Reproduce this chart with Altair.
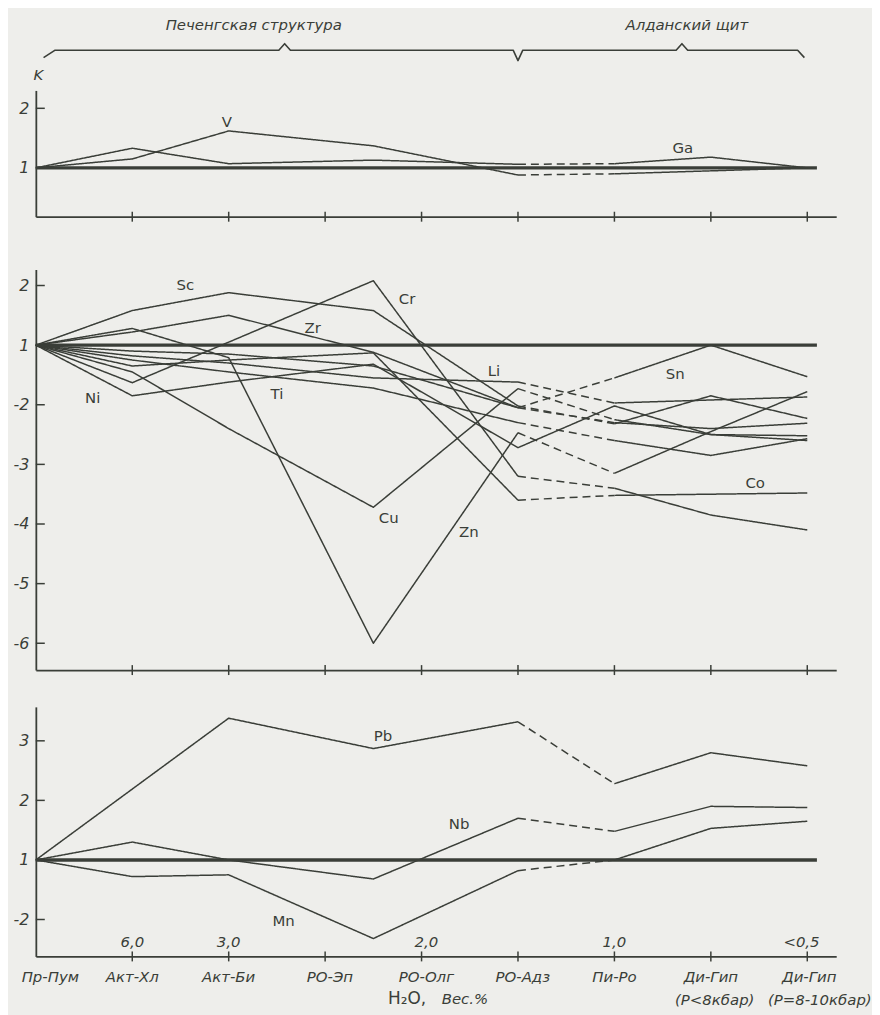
import altair as alt
import pandas as pd

INK = "#3a3e38"
BG = "#eeeeeb"
FONT = "DejaVu Sans"

X_MAX = 8.3
W = 805

# ---------------- axis / category data ----------------
categories = ["Пр-Пум", "Акт-Хл", "Акт-Би", "РО-Эп", "РО-Олг", "РО-Адз", "Пи-Ро", "Ди-Гип", "Ди-Гип"]
cat_x = [0.15, 1.0, 2.0, 3.05, 4.05, 5.05, 6.0, 7.0, 8.02]
cat_sub = ["(P<8кбар)", "(P=8-10кбар)"]
cat_sub_x = [7.04, 8.13]
h2o_labels = ["6,0", "3,0", "2,0", "1,0", "<0,5"]
h2o_x = [1.0, 2.0, 4.05, 6.0, 7.94]
x_ticks = [1, 2, 3, 4, 5, 6, 7, 8]
baseline_end = 8.1
xtitle_parts = ["H₂O,", "Вес.%"]
xtitle_x = [3.85, 4.45]
xtitle_style = ["normal", "italic"]

groups = ["Печенгская структура", "Алданский щит"]
group_start = [0, 5]
group_end = [5, 8]
group_label_x = [2.26, 6.75]
group_peak_x = [2.58, 6.70]

# x positions of the data points
idx8 = [0, 1, 2, 3.5, 5, 6, 7, 8]
idx_pb = [0, 2, 3.5, 5, 6, 7, 8]

# ---------------- panel 1 (K values) ----------------
p1_series = {
    "V":  (idx8, [1, 1.15, 1.62, 1.37, -1.12, -1.10, -1.05, 1]),
    "Ga": (idx8, [1, 1.33, 1.07, 1.13, 1.06, 1.07, 1.18, 1]),
}
p1_dashed = ["V", "Ga"]
p1_lab = ["V", "Ga"]
p1_lab_x = [1.98, 6.71]
p1_lab_k = [1.77, 1.33]
p1_ticks = [2, 1]

# ---------------- panel 2 (K values) ----------------
p2_series = {
    "Sc": (idx8, [1, 1.58, 1.88, 1.58, -2.02, -2.32, -1.85, -2.23]),
    "Cr": (idx8, [1, -1.63, 1.05, 2.08, -3.2, -3.4, -3.85, -4.1]),
    "Zr": (idx8, [1, 1.22, 1.5, -1.12, -2.05, -2.3, -2.4, -2.31]),
    "Zn": (idx8, [1, 1.28, -1.21, -6.0, -2.47, -3.15, -2.45, -1.78]),
    "Cu": (idx8, [1, -1.45, -2.4, -3.72, -1.73, -2.25, -2.5, -2.52]),
    "Ni": (idx8, [1, -1.85, -1.62, -1.32, -2.72, -2.02, -2.5, -2.6]),
    "Ti": (idx8, [1, -1.25, -1.45, -1.72, -2.3, -2.6, -2.85, -2.57]),
    "Li": (idx8, [1, -1.18, -1.3, -1.55, -1.62, -1.97, -1.92, -1.87]),
    "Sn": (idx8, [1, -1.1, -1.15, -1.35, -2.05, -1.55, 1, -1.53]),
    "Co": (idx8, [1, -1.35, -1.25, -1.13, -3.6, -3.52, -3.5, -3.48]),
}
p2_dashed = ["Sc", "Cr", "Zr", "Zn", "Cu", "Ti", "Li", "Sn", "Co"]
p2_lab = ["Sc", "Cr", "Zr", "Ni", "Ti", "Li", "Sn", "Cu", "Zn", "Co"]
p2_lab_x = [1.55, 3.85, 2.87, 0.59, 2.50, 4.75, 6.63, 3.66, 4.49, 7.46]
p2_lab_k = [2.0, 1.77, 1.28, -1.88, -1.82, -1.43, -1.48, -3.9, -4.13, -3.32]
p2_ticks = [2, 1, -2, -3, -4, -5, -6]

# ---------------- panel 3 (K values) ----------------
p3_series = {
    "Pb": (idx_pb, [1, 3.38, 2.87, 3.32, 2.28, 2.8, 2.58]),
    "Nb": (idx8, [1, 1.3, 1, -1.32, 1.7, 1.48, 1.9, 1.88]),
    "Mn": (idx8, [1, -1.28, -1.25, -2.32, -1.18, 1, 1.53, 1.65]),
}
p3_dashed = ["Pb", "Nb", "Mn"]
p3_lab = ["Pb", "Nb", "Mn"]
p3_lab_x = [3.6, 4.39, 2.57]
p3_lab_k = [3.08, 1.6, -2.02]
p3_ticks = [3, 2, 1, -2]


def k2p(k):
    """position on the drawn K scale: 2 -> 1, 1 -> 0, -2 -> -1 ..."""
    return k - 1 if k >= 1 else k + 1


LABEL_EXPR = "datum.value >= 0 ? '' + (datum.value + 1) : '-' + (1 - datum.value)"


def line_rows(series, dashed_names, dashed_from=5):
    rows = []
    for name, (xs, ks) in series.items():
        run = 0
        prev = None
        for i in range(len(xs) - 1):
            style = "dashed" if (name in dashed_names and xs[i] == dashed_from) else "solid"
            if style != prev:
                run += 1
                rows.append(dict(run=f"{name}-{run}", style=style, x=xs[i], p=k2p(ks[i]), o=i))
                prev = style
            rows.append(dict(run=f"{name}-{run}", style=style, x=xs[i + 1], p=k2p(ks[i + 1]), o=i + 1))
    return pd.DataFrame(rows)


def make_panel(series, dashed, lab, lab_x, lab_k, ticks_k, dom, height, k_title=False, bottom=False):
    xs = alt.Scale(domain=[0, X_MAX], nice=False, zero=False)
    ys = alt.Scale(domain=dom, nice=False, zero=False)
    tick_p = [k2p(k) for k in ticks_k]

    xaxis = alt.Axis(ticks=False, labels=False, grid=False, domainColor=INK, domainWidth=1.8, title=None)
    yargs = dict(values=tick_p, labelExpr=LABEL_EXPR, ticks=False, grid=False, domainColor=INK,
                 domainWidth=1.8, labelColor=INK, labelFont=FONT, labelFontSize=16,
                 labelFontStyle="italic", labelPadding=7)
    if k_title:
        yargs.update(title="K", titleAngle=0, titleX=2, titleY=-16, titleFont=FONT, titleFontSize=15,
                     titleFontStyle="italic", titleFontWeight="normal", titleColor=INK,
                     titleAlign="center", titleBaseline="middle")
    else:
        yargs.update(title=None)
    yaxis = alt.Axis(**yargs)

    X = lambda f: alt.X(f, scale=xs, axis=xaxis)
    Y = lambda f: alt.Y(f, scale=ys, axis=yaxis)

    base = alt.Chart(pd.DataFrame({"x": [0], "x2": [baseline_end], "p": [0]})).mark_rule(
        color=INK, strokeWidth=3.4).encode(x=X("x:Q"), x2="x2:Q", y=Y("p:Q"))

    lines = alt.Chart(line_rows(series, dashed)).mark_line(
        color=INK, strokeWidth=1.5, strokeJoin="round").encode(
        x=X("x:Q"), y=Y("p:Q"),
        detail="run:N",
        order="o:Q",
        strokeDash=alt.StrokeDash("style:N", scale=alt.Scale(domain=["solid", "dashed"],
                                                             range=[[1, 0], [8, 5]]), legend=None),
    )

    xt = alt.Chart(pd.DataFrame({"x": x_ticks})).mark_rule(color=INK, strokeWidth=1.5).encode(
        x=X("x:Q"), y=alt.value(height - 5), y2=alt.value(height + 5))
    yt = alt.Chart(pd.DataFrame({"p": tick_p})).mark_rule(color=INK, strokeWidth=1.5).encode(
        y=Y("p:Q"), x=alt.value(0), x2=alt.value(9))

    labels = alt.Chart(pd.DataFrame({"t": lab, "x": lab_x, "p": [k2p(k) for k in lab_k]})).mark_text(
        font=FONT, fontSize=15, color=INK).encode(x=X("x:Q"), y=Y("p:Q"), text="t:N")

    layers = [base, lines, xt, yt, labels]

    if bottom:
        h2o = alt.Chart(pd.DataFrame({"t": h2o_labels, "x": h2o_x})).mark_text(
            font=FONT, fontSize=15, fontStyle="italic", color=INK).encode(
            x=X("x:Q"), y=alt.value(height - 14), text="t:N")
        cats = alt.Chart(pd.DataFrame({"t": categories, "x": cat_x})).mark_text(
            font=FONT, fontSize=15, fontStyle="italic", color=INK).encode(
            x=X("x:Q"), y=alt.value(height + 21), text="t:N")
        subs = alt.Chart(pd.DataFrame({"t": cat_sub, "x": cat_sub_x})).mark_text(
            font=FONT, fontSize=15, fontStyle="italic", color=INK).encode(
            x=X("x:Q"), y=alt.value(height + 44), text="t:N")
        xt_df = pd.DataFrame({"t": xtitle_parts, "x": xtitle_x, "s": xtitle_style})
        xt1 = alt.Chart(xt_df[xt_df.s == "normal"]).mark_text(
            font=FONT, fontSize=17, color=INK).encode(
            x=X("x:Q"), y=alt.value(height + 43), text="t:N")
        xt2 = alt.Chart(xt_df[xt_df.s == "italic"]).mark_text(
            font=FONT, fontSize=15, fontStyle="italic", color=INK).encode(
            x=X("x:Q"), y=alt.value(height + 43), text="t:N")
        layers += [h2o, cats, subs, xt1, xt2]

    return alt.layer(*layers).properties(width=W, height=height)


# ---------------- top brace and region titles ----------------
def brace_rows():
    y_line, y_peak, y_join, y_end = 34.5, 28.0, 45.0, 42.0
    pts = []
    for g in range(len(groups)):
        s, e, pk = group_start[g], group_end[g], group_peak_x[g]
        first, last = g == 0, g == len(groups) - 1
        if first:
            pts += [(s + 0.08, y_end), (s + 0.2, y_line)]
        else:
            pts += [(s, y_join), (s + 0.05, y_line)]
        pts += [(pk - 0.06, y_line), (pk, y_peak), (pk + 0.06, y_line)]
        if last:
            pts += [(e - 0.1, y_line), (e - 0.03, y_end)]
        else:
            pts += [(e - 0.05, y_line), (e, y_join)]
    return pd.DataFrame({"x": [p[0] for p in pts], "y": [p[1] for p in pts], "o": list(range(len(pts)))})


TOP_H = 75
xs_top = alt.Scale(domain=[0, X_MAX], nice=False, zero=False)
ys_top = alt.Scale(domain=[0, TOP_H], nice=False, zero=False, reverse=True)
brace = alt.Chart(brace_rows()).mark_line(color=INK, strokeWidth=1.6, strokeJoin="round").encode(
    x=alt.X("x:Q", scale=xs_top, axis=None), y=alt.Y("y:Q", scale=ys_top, axis=None), order="o:Q")
gtitles = alt.Chart(pd.DataFrame({"t": groups, "x": group_label_x, "y": [9, 9]})).mark_text(
    font=FONT, fontSize=15, fontStyle="italic", color=INK).encode(
    x=alt.X("x:Q", scale=xs_top, axis=None), y=alt.Y("y:Q", scale=ys_top, axis=None), text="t:N")
top = alt.layer(brace, gtitles).properties(width=W, height=TOP_H)


def spacer(h):
    return alt.Chart(pd.DataFrame({"v": [0]})).mark_point(opacity=0).encode(
        x=alt.value(0), y=alt.value(0)).properties(width=W, height=h)


p1 = make_panel(p1_series, p1_dashed, p1_lab, p1_lab_x, p1_lab_k, p1_ticks, [-0.82, 1.30], 127, k_title=True)
p2 = make_panel(p2_series, p2_dashed, p2_lab, p2_lab_x, p2_lab_k, p2_ticks, [-5.45, 1.27], 403)
p3 = make_panel(p3_series, p3_dashed, p3_lab, p3_lab_x, p3_lab_k, p3_ticks, [-1.62, 2.57], 251, bottom=True)

chart = alt.vconcat(top, p1, spacer(53), p2, spacer(37), p3, spacing=0, bounds="flush").properties(
    padding={"left": 5, "right": 0, "top": 5, "bottom": 5}
).configure(background=BG).configure_view(stroke=None)

chart.save("out.html", embed_options={"renderer": "svg", "actions": False})
